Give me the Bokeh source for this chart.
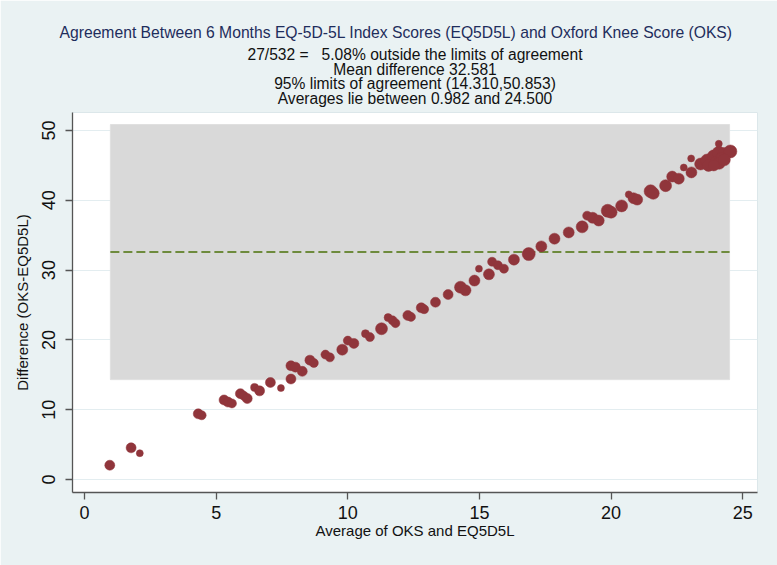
from bokeh.plotting import figure
from bokeh.models import Title, FixedTicker, Range1d
from bokeh.embed import file_html
from bokeh.resources import INLINE

# ---- data ----
avg = [0.96, 1.77, 2.10, 4.32, 4.45, 5.30, 5.45, 5.60, 5.92, 6.05, 6.18, 6.46, 6.65,
       7.06, 7.46, 7.84, 7.84, 8.01, 8.27, 8.56, 8.71, 9.15, 9.32, 9.79, 10.00, 10.23,
       10.67, 10.84, 11.28, 11.53, 11.70, 11.81, 12.28, 12.40, 12.79, 12.90, 13.33,
       13.81, 14.28, 14.47, 14.81, 14.98, 15.36, 15.48, 15.70, 15.93, 16.31, 16.87,
       17.35, 17.85, 18.39, 18.90, 19.09, 19.30, 19.53, 19.87, 20.00, 20.40, 20.67,
       20.85, 20.99, 21.50, 21.60, 22.07, 22.32, 22.57, 22.76, 23.05, 23.04, 23.40,
       23.65, 23.90, 24.09, 24.28, 24.53, 23.70, 24.00, 24.20, 24.10, 23.90, 24.30, 24.09]
diff = [2.05, 4.54, 3.77, 9.41, 9.20, 11.40, 11.10, 10.90, 12.30, 12.00, 11.60, 13.20, 12.70,
        13.90, 13.10, 14.40, 16.30, 16.10, 15.50, 17.10, 16.70, 17.90, 17.50, 18.60, 19.90, 19.50,
        20.90, 20.40, 21.60, 23.20, 22.80, 22.40, 23.50, 23.30, 24.60, 24.40, 25.40,
        26.50, 27.55, 27.10, 28.50, 30.20, 29.40, 31.20, 30.70, 30.20, 31.50, 32.30,
        33.40, 34.50, 35.40, 36.20, 37.80, 37.50, 37.10, 38.50, 38.30, 39.20, 40.85,
        40.30, 40.10, 41.30, 41.00, 42.10, 43.40, 43.10, 44.70, 44.00, 46.00, 45.20,
        45.70, 46.30, 46.80, 46.70, 47.00, 45.00, 45.50, 46.00, 45.30, 45.00, 45.80, 48.10]
weight = [10, 10, 7, 10, 9, 10, 10, 9, 10, 9, 10, 8, 10,
          10, 7, 10, 10, 10, 10, 10, 9, 9, 9, 11, 9, 10,
          8, 9, 12, 8, 9, 9, 10, 9, 10, 9, 10,
          10, 12, 11, 11, 7, 11, 9, 9, 9, 11, 13,
          11, 11, 11, 12, 9, 11, 11, 13, 12, 12, 7,
          11, 11, 13, 12, 12, 11, 11, 7, 11, 7, 12,
          13, 13, 13, 12, 13, 12, 12, 12, 12, 11, 12, 7]

mean_diff = 32.581
loa_low, loa_high = 14.310, 50.853
avg_min, avg_max = 0.982, 24.500
outside_n, total_n, outside_pct = 27, 532, 5.08

x_ticks = [0, 5, 10, 15, 20, 25]
y_ticks = [0, 10, 20, 30, 40, 50]

title_text = "Agreement Between 6 Months EQ-5D-5L Index Scores (EQ5D5L) and Oxford Knee Score (OKS)"
sub_lines = [
    f"{outside_n}/{total_n} =\u00a0\u00a0 {outside_pct:.2f}% outside the limits of agreement",
    f"Mean difference {mean_diff:.3f}",
    f"95% limits of agreement ({loa_low:.3f},{loa_high:.3f})",
    f"Averages lie between {avg_min:.3f} and {avg_max:.3f}",
]

FONT = "Liberation Sans"
BG = "#EAF2F3"

x0, x1 = -0.456, 25.56
y0, y1 = -1.86, 52.58

p = figure(width=777, height=565, output_backend="svg", toolbar_location=None,
           x_range=Range1d(x0, x1), y_range=Range1d(y0, y1),
           min_border_left=72, min_border_right=20, min_border_top=112, min_border_bottom=73)
p.title = None
p.border_fill_color = BG
p.background_fill_color = "white"
p.outline_line_color = "#DCE7EA"

# band of limits of agreement
p.quad(left=[avg_min], right=[avg_max], bottom=[loa_low], top=[loa_high],
       fill_color="#D9D9D9", line_color="#E0E0E0", line_width=1)
# mean difference
p.line(x=[avg_min, avg_max], y=[mean_diff, mean_diff], line_color="#6E8B3D",
       line_width=2, line_dash="9 4")
# points
p.scatter(x=avg, y=diff, size=weight, fill_color="#90353B", line_color="#90353B",
          line_width=0.5)

# axes
for ax in (p.xaxis[0], p.yaxis[0]):
    ax.axis_line_color = "#555555"
    ax.axis_line_width = 1.3
    ax.major_tick_line_color = "#555555"
    ax.major_tick_line_width = 1.3
    ax.major_tick_out = 7
    ax.major_tick_in = 0
    ax.minor_tick_line_color = None
    ax.major_label_text_font = FONT
    ax.major_label_text_font_size = "18px"
    ax.major_label_text_color = "#111111"
    ax.axis_label_text_font = FONT
    ax.axis_label_text_font_size = "15px"
    ax.axis_label_text_font_style = "normal"
    ax.axis_label_text_color = "#111111"

p.xaxis[0].ticker = FixedTicker(ticks=x_ticks)
p.yaxis[0].ticker = FixedTicker(ticks=y_ticks)
p.xaxis[0].axis_label = "Average of OKS and EQ5D5L"
p.yaxis[0].axis_label = "Difference (OKS-EQ5D5L)"
p.xaxis[0].major_label_standoff = 6
p.xaxis[0].axis_label_standoff = 0
p.yaxis[0].major_label_orientation = "vertical"
p.yaxis[0].major_label_standoff = 10
p.yaxis[0].axis_label_standoff = 9

p.xgrid.grid_line_color = None
p.ygrid.grid_line_color = "#E3EDF0"
p.ygrid.grid_line_width = 1
p.ygrid.ticker = FixedTicker(ticks=y_ticks)

# titles: first added sits closest to the frame; box standoffs set the spacing
sub_layout = [("bottom", -7.4), ("bottom", -0.6), ("bottom", -9.4), ("top", 5.8)]
for line, (va, so) in reversed(list(zip(sub_lines, sub_layout))):
    p.add_layout(Title(text=line, align="center", vertical_align=va, standoff=so,
                       text_font=FONT, text_font_size="15.6px", text_font_style="normal",
                       text_color="#111111"), "above")
p.add_layout(Title(text=title_text, align="left", offset=-13, vertical_align="bottom",
                   standoff=13.2, text_font=FONT, text_font_size="15.7px",
                   text_font_style="normal", text_color="#1E2D5C"), "above")

html = file_html(p, INLINE)
html = html.replace("<body>", f'<body style="background:{BG}">', 1)
open("out.html", "w").write(html)
